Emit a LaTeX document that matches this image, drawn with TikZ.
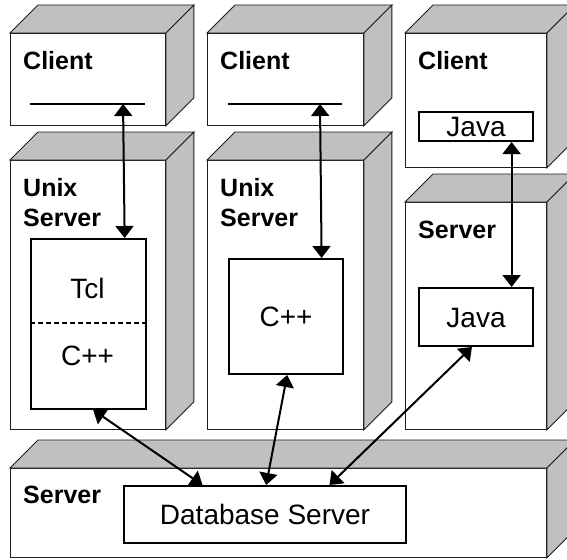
\documentclass[tikz,border=0pt]{standalone}
\usepackage{fontspec}
\setmainfont{Liberation Sans}
\usetikzlibrary{arrows.meta,calc}
\definecolor{sidegray}{HTML}{C0C0C0}
\definecolor{edgegray}{HTML}{1E1E1E}
% top and right faces of a block whose front face is node #1
\newcommand{\blockdepth}[1]{%
  \draw[face] (#1.north west) -- ++(28,-28) -- ($(#1.north east)+(28,-28)$) -- (#1.north east) -- cycle;
  \draw[face] (#1.north east) -- ++(28,-28) -- ($(#1.south east)+(28,-28)$) -- (#1.south east) -- cycle;}
\begin{document}
\begin{tikzpicture}[x=1pt,y=-1pt,
  block/.style={draw=edgegray, line width=0.9pt, fill=white, inner sep=0pt, anchor=north west},
  face/.style={draw=edgegray, fill=sidegray, line width=0.9pt, line join=miter},
  part/.style={draw=black, line width=2pt, fill=white, inner sep=0pt,
    font=\fontsize{28}{31}\selectfont, text height=20pt, text depth=0pt},
  partlabel/.style={inner sep=0pt, anchor=base, font=\fontsize{28}{31}\selectfont},
  title/.style={anchor=base west, inner sep=0pt, align=left, font=\bfseries\fontsize{25}{30}\selectfont},
  bar/.style={line width=2pt},
  link/.style={line width=2pt, {Triangle[length=12pt,width=18pt]}-{Triangle[length=12pt,width=18pt]}},
  sep/.style={line width=1.6pt, dash pattern=on 5pt off 3pt}]
\useasboundingbox[fill=white] (0,0) rectangle (567,559);

% hardware blocks
\node[block, minimum width=155pt, minimum height=92pt]  (clientA) at (10,33) {};
\node[block, minimum width=155pt, minimum height=269pt] (unixA)   at (10,160) {};
\node[block, minimum width=156pt, minimum height=92pt]  (clientB) at (207,33) {};
\node[block, minimum width=156pt, minimum height=269pt] (unixB)   at (207,160) {};
\node[block, minimum width=141pt, minimum height=134pt] (clientC) at (405,33) {};
\node[block, minimum width=141pt, minimum height=227pt] (serverC) at (405,202) {};
\node[block, minimum width=536pt, minimum height=89pt]  (dbhost)  at (10,468) {};
\blockdepth{clientA}
\blockdepth{unixA}
\blockdepth{clientB}
\blockdepth{unixB}
\blockdepth{clientC}
\blockdepth{serverC}
\blockdepth{dbhost}

% block titles
\node[title] at (23,70) {Client};
\node[title] at (220,70) {Client};
\node[title] at (418,70) {Client};
\node[title] at (23,226) {Unix\\Server};
\node[title] at (220,226) {Unix\\Server};
\node[title] at (418,238) {Server};
\node[title] at (23,503) {Server};

% client bars
\coordinate (barAw) at (30,104);
\coordinate (barAe) at (145,104);
\coordinate (barBw) at (228,104);
\coordinate (barBe) at (342,104);
\draw[bar] (barAw) -- (barAe);
\draw[bar] (barBw) -- (barBe);

% software components
\node[part, anchor=north west, minimum width=115pt, minimum height=170pt] (tclcpp) at (30,238) {};
\draw[sep] (30,323) -- (145,323);
\node[partlabel] at (87.5,298) {Tcl};
\node[partlabel] at (87.5,365) {C++};
\node[part, anchor=north west, minimum width=114pt, minimum height=115pt] (cppB) at (228,258) {C++};
\node[part, anchor=north west, minimum width=114pt, minimum height=29pt] (javaC) at (418,111) {Java};
\node[part, anchor=north west, minimum width=114pt, minimum height=58pt] (javaS) at (418,287) {Java};
\node[part, anchor=north west, minimum width=282pt, minimum height=57pt] (db) at (123,485) {Database Server};

% connections
\draw[link] ($(barAw)!0.809!(barAe)$) -- ($(tclcpp.north west)!0.809!(tclcpp.north east)$);
\draw[link] ($(barBw)!0.807!(barBe)$) -- ($(cppB.north west)!0.807!(cppB.north east)$);
\draw[link] ($(javaC.south west)!0.807!(javaC.south east)$) -- ($(javaS.north west)!0.807!(javaS.north east)$);
\draw[link] ($(tclcpp.south west)!0.54!(tclcpp.south east)$) -- ($(db.north west)!0.28!(db.north east)$);
\draw[link] ($(cppB.south west)!0.51!(cppB.south east)$) -- ($(db.north west)!0.504!(db.north east)$);
\draw[link] ($(javaS.south west)!0.465!(javaS.south east)$) -- ($(db.north west)!0.727!(db.north east)$);
\end{tikzpicture}
\end{document}
